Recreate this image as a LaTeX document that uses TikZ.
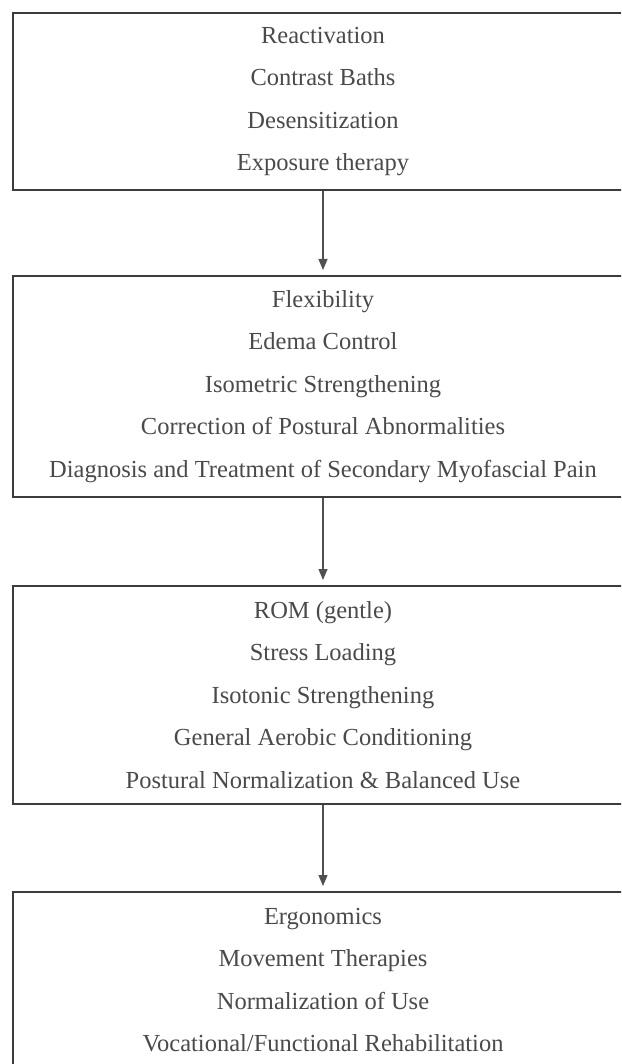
\documentclass[tikz,border=0pt]{standalone}
\usepackage{fontspec}
\setmainfont{Liberation Serif}
\usetikzlibrary{arrows.meta}
\definecolor{boxgray}{HTML}{3C3C3C}
\definecolor{txtgray}{HTML}{4A4A4A}
\definecolor{arrgray}{HTML}{505050}
\begin{document}
\begin{tikzpicture}[x=1pt,y=-1pt,
  stagebox/.style={draw=boxgray, line width=2pt, rectangle, minimum width=620pt,
    inner sep=0pt, align=center, font=\fontsize{24.5}{42.5}\selectfont, text=txtgray},
  flow/.style={draw=arrgray, line width=1.1pt, -{Triangle[length=11pt,width=9pt]}, shorten >=5pt}]
\useasboundingbox (0,0) rectangle (621,1064);
\clip (0,0) rectangle (621,1064);
\fill[white] (0,0) rectangle (621,1064);
\node[stagebox, minimum height=177pt] (b1) at (323,101.5)
  {Reactivation\\Contrast Baths\\Desensitization\\Exposure therapy};
\node[stagebox, minimum height=221pt] (b2) at (323,386.5)
  {Flexibility\\Edema Control\\Isometric Strengthening\\Correction of Postural Abnormalities\\Diagnosis and Treatment of Secondary Myofascial Pain};
\node[stagebox, minimum height=218pt] (b3) at (323,695)
  {ROM (gentle)\\Stress Loading\\Isotonic Strengthening\\General Aerobic Conditioning\\Postural Normalization \& Balanced Use};
\node[stagebox, minimum height=176pt] (b4) at (323,980)
  {Ergonomics\\Movement Therapies\\Normalization of Use\\Vocational/Functional Rehabilitation};
\draw[flow] (b1.south) -- (b2.north);
\draw[flow] (b2.south) -- (b3.north);
\draw[flow] (b3.south) -- (b4.north);
\end{tikzpicture}
\end{document}
